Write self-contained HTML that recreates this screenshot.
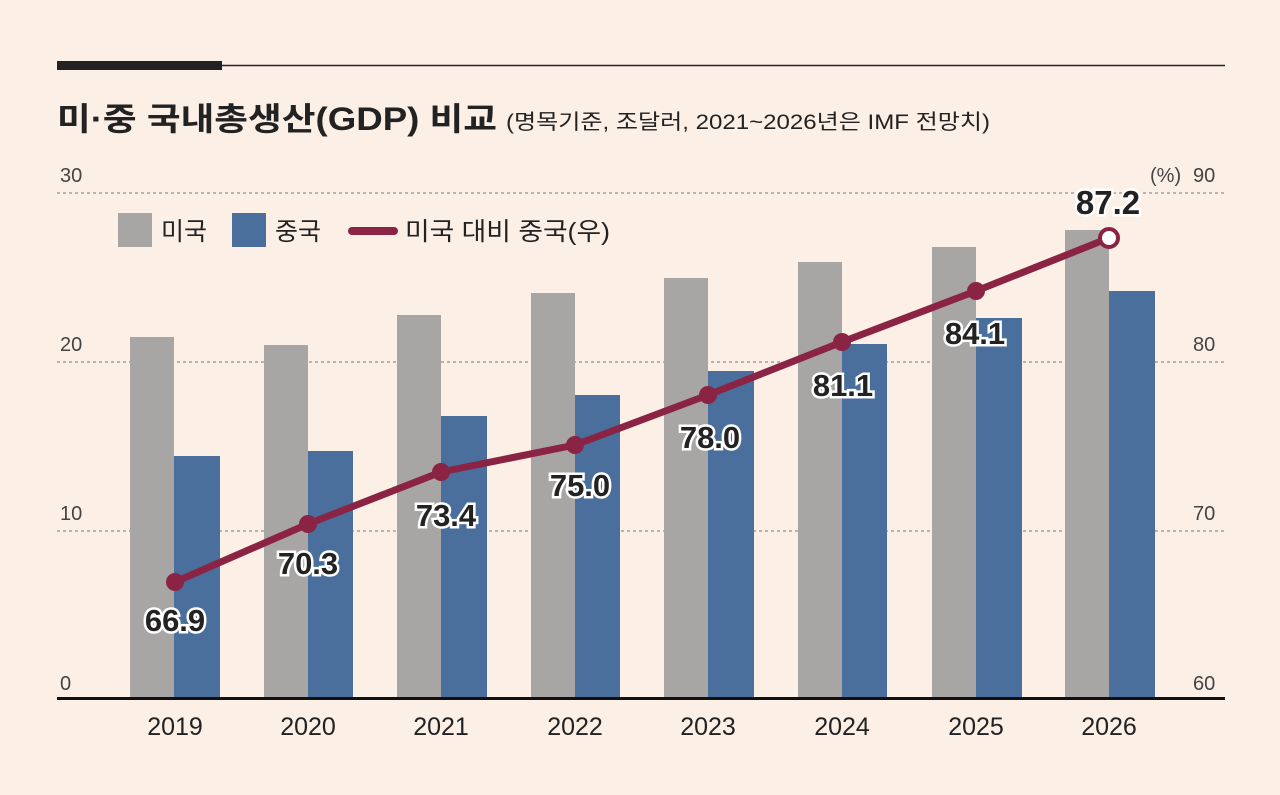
<!DOCTYPE html>
<html><head><meta charset="utf-8"><style>
body{margin:0;background:#fcefe6;}
svg text{font-family:"Liberation Sans","Noto Sans CJK KR",sans-serif;}
</style></head><body>
<svg width="1280" height="790" viewBox="0 0 1280 790" xmlns="http://www.w3.org/2000/svg">
<rect width="1280" height="790" fill="#fcefe6"/>
<rect x="57" y="61" width="165" height="9" fill="#222"/>
<line x1="222" y1="65.5" x2="1225" y2="65.5" stroke="#222" stroke-width="1.5"/>
<text x="57" y="130" font-size="32" font-weight="bold" fill="#222" textLength="440" lengthAdjust="spacingAndGlyphs">미·중 국내총생산(GDP) 비교</text>
<text x="506" y="129" font-size="21" fill="#222" textLength="484" lengthAdjust="spacingAndGlyphs">(명목기준, 조달러, 2021~2026년은 IMF 전망치)</text>
<g stroke="#777" stroke-width="1" stroke-dasharray="3,3">
<line x1="57" y1="193" x2="1225" y2="193"/>
<line x1="57" y1="362" x2="1225" y2="362"/>
<line x1="57" y1="531" x2="1225" y2="531"/>
</g>
<g font-size="20" fill="#444">
<text x="60" y="182">30</text><text x="60" y="351">20</text><text x="60" y="520">10</text><text x="60" y="690">0</text>
<text x="1193" y="182">90</text><text x="1193" y="351">80</text><text x="1193" y="520">70</text><text x="1193" y="690">60</text>
<text x="1150" y="182">(%)</text>
</g>
<g fill="#a8a6a5">
<rect x="130" y="337" width="44" height="361"/>
<rect x="264" y="345" width="44" height="353"/>
<rect x="397" y="315" width="44" height="383"/>
<rect x="531" y="293" width="44" height="405"/>
<rect x="664" y="278" width="44" height="420"/>
<rect x="798" y="262" width="44" height="436"/>
<rect x="932" y="247" width="44" height="451"/>
<rect x="1065" y="230" width="44" height="468"/>
</g>
<g fill="#4a6f9c">
<rect x="174" y="456" width="46" height="242"/>
<rect x="308" y="451" width="45" height="247"/>
<rect x="441" y="416" width="46" height="282"/>
<rect x="575" y="395" width="45" height="303"/>
<rect x="708" y="371" width="46" height="327"/>
<rect x="842" y="344" width="45" height="354"/>
<rect x="976" y="318" width="46" height="380"/>
<rect x="1109" y="291" width="46" height="407"/>
</g>
<line x1="57" y1="698.5" x2="1225" y2="698.5" stroke="#111" stroke-width="3"/>
<g font-size="25" fill="#222" text-anchor="middle">
<text x="175" y="735">2019</text><text x="308" y="735">2020</text><text x="441" y="735">2021</text><text x="575" y="735">2022</text><text x="708" y="735">2023</text><text x="842" y="735">2024</text><text x="976" y="735">2025</text><text x="1109" y="735">2026</text>
</g>
<polyline points="175,582 308,524 441,472 575,445 708,395 842,342 976,291 1109,238" fill="none" stroke="#8b2344" stroke-width="7" stroke-linejoin="round"/>
<g fill="#8b2344">
<circle cx="175" cy="582" r="9"/><circle cx="308" cy="524" r="9"/><circle cx="441" cy="472" r="9"/><circle cx="575" cy="445" r="9"/><circle cx="708" cy="395" r="9"/><circle cx="842" cy="342" r="9"/><circle cx="976" cy="291" r="9"/>
</g>
<circle cx="1109" cy="238" r="9" fill="#fff" stroke="#8b2344" stroke-width="4"/>
<g font-size="31" font-weight="bold" fill="#222" stroke="#fff" stroke-width="5" paint-order="stroke" text-anchor="middle">
<text x="175" y="631">66.9</text><text x="308" y="574">70.3</text><text x="446" y="526">73.4</text><text x="580" y="496">75.0</text><text x="710" y="448">78.0</text><text x="843" y="396">81.1</text><text x="975" y="344">84.1</text>
<text x="1108" y="214" font-size="33">87.2</text>
</g>
<rect x="118" y="213" width="34" height="34" fill="#a8a6a5"/>
<text x="161" y="240" font-size="25" fill="#222">미국</text>
<rect x="232" y="213" width="34" height="34" fill="#4a6f9c"/>
<text x="275" y="240" font-size="25" fill="#222">중국</text>
<line x1="352" y1="231" x2="394" y2="231" stroke="#8b2344" stroke-width="8" stroke-linecap="round"/>
<text x="405" y="240" font-size="25" fill="#222" textLength="205" lengthAdjust="spacingAndGlyphs">미국 대비 중국(우)</text>
</svg>
</body></html>
